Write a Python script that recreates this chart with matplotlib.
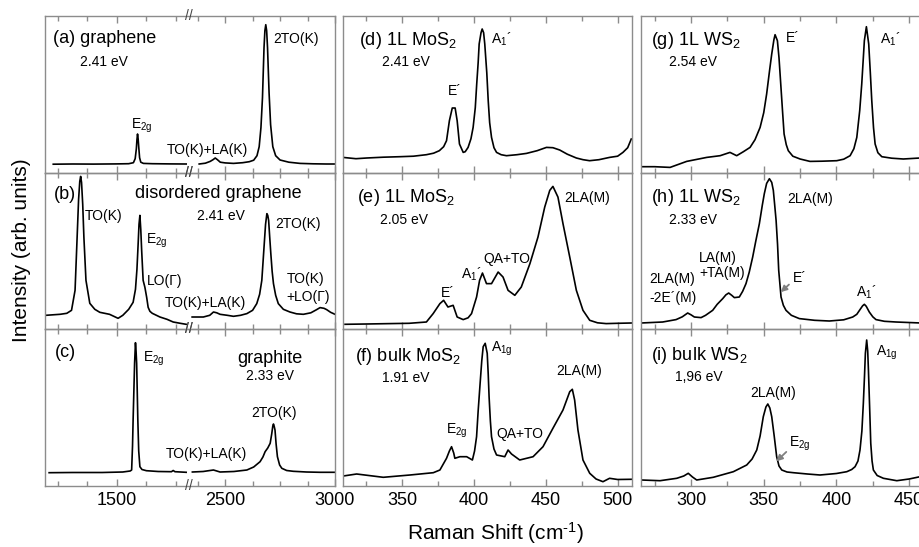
import numpy as np
import matplotlib
matplotlib.use("Agg")
import matplotlib.pyplot as plt
from matplotlib.ticker import FixedLocator, MultipleLocator, NullFormatter
from matplotlib.transforms import blended_transform_factory

plt.rcParams['font.family'] = ['Liberation Sans', 'DejaVu Sans']
plt.rcParams['mathtext.fontset'] = 'custom'
plt.rcParams['mathtext.rm'] = 'Liberation Sans'
plt.rcParams['mathtext.it'] = 'Liberation Sans:italic'
plt.rcParams['mathtext.bf'] = 'Liberation Sans:bold'
plt.rcParams['mathtext.default'] = 'regular'

# ---------------- data (Raman shift in cm^-1, intensity in arb. units) ----------------
# (a) graphene, 2.41 eV
a_lo_x = [1284, 1350, 1420, 1500, 1540, 1556, 1562, 1566, 1568, 1570, 1572, 1574, 1577, 1581, 1590, 1620, 1680, 1736]
a_lo_y = [8.5, 8.7, 8.6, 8.8, 9.0, 10.0, 14.0, 24.0, 33.0, 38.7, 34.0, 26.0, 15.0, 10.5, 9.3, 9.0, 8.8, 8.7]
a_hi_x = [2382, 2410, 2432, 2445, 2455, 2465, 2478, 2500, 2538, 2580, 2610, 2630, 2645, 2655, 2663, 2670, 2677,
          2681, 2685, 2689, 2693, 2700, 2707, 2717, 2730, 2750, 2790, 2841, 2900, 2960, 3000]
a_hi_y = [8.7, 9.5, 11.3, 13.0, 14.7, 13.0, 10.5, 9.8, 9.3, 10.0, 11.0, 12.5, 17.0, 26.0, 45.0, 75.0, 125.0,
          142.0, 148.0, 142.0, 125.0, 80.0, 48.0, 26.0, 17.0, 12.7, 10.5, 9.3, 8.9, 8.7, 8.7]

# (b) disordered graphene, 2.41 eV
b_lo_x = [1259, 1307, 1330, 1346, 1358, 1365, 1370, 1374, 1377, 1380, 1384, 1388, 1395, 1408, 1425, 1442, 1475,
          1504, 1520, 1540, 1555, 1563, 1568, 1572, 1575, 1578, 1581, 1584, 1589, 1595, 1601, 1606, 1612, 1620,
          1646, 1670, 1691, 1715, 1736]
b_lo_y = [14, 15, 16, 19, 39, 92, 130, 148, 153, 147, 125, 92, 49, 26, 20, 17, 15,
          11, 14, 20, 27, 40, 60, 85, 105, 114, 100, 79, 49, 42, 32, 22, 18, 16,
          12.3, 10, 7.3, 6, 5]
b_hi_x = [2348, 2401, 2430, 2447, 2462, 2477, 2510, 2538, 2570, 2599, 2625, 2644, 2657, 2667, 2677, 2684, 2690,
          2694, 2698, 2703, 2708, 2714, 2720, 2730, 2742, 2765, 2795, 2825, 2856, 2890, 2915, 2932, 2950, 2962,
          2980, 3000]
b_hi_y = [12.3, 12.3, 14, 17.3, 16.5, 15, 14, 13, 14, 15.7, 19, 25.7, 35, 49, 82, 105, 115.7,
          114, 109, 92, 75.7, 58, 45.7, 34, 25.7, 20, 17.3, 15.5, 15, 16.5, 19.5, 21.7, 21, 19.7,
          17, 15]

# (c) graphite, 2.33 eV
c_lo_x = [1270, 1350, 1450, 1520, 1545, 1550, 1553, 1555, 1558, 1560, 1563, 1565, 1567, 1569, 1571, 1574, 1578,
          1585, 1600, 1640, 1685, 1691, 1697, 1736]
c_lo_y = [13.3, 13.5, 13.5, 14.0, 15.0, 16, 40, 66, 100, 122.7, 143.3, 135, 122.7, 95, 66, 35, 19.3,
          16.5, 15.3, 14.5, 14.3, 15.5, 14.3, 13.7]
c_hi_x = [2351, 2400, 2447, 2477, 2540, 2599, 2630, 2659, 2672, 2682, 2694, 2705, 2712, 2717, 2720, 2723, 2727,
          2732, 2738, 2748, 2758, 2780, 2810, 2870, 2932, 3000]
c_hi_y = [14, 14.5, 16, 14, 14.5, 16, 19, 24.3, 29, 34.3, 38, 42.7, 52, 60, 62, 60, 56,
          42, 29.3, 21, 17.7, 15.5, 14.7, 14, 13.7, 13.7]

# (d) 1L MoS2, 2.41 eV
d_x = [309, 318, 325.5, 337, 348.6, 358, 367, 372, 376, 379, 381, 383, 385, 387, 388.4, 390, 392.6, 394, 396, 398,
       399.5, 401, 402, 403, 403.7, 405, 405.8, 406.8, 407.6, 409, 410, 411, 412.3, 414, 415.8, 419, 422.7, 430,
       436.6, 444, 450.5, 455, 459.7, 465, 471.3, 476, 480.5, 487, 494.4, 500, 503.7, 507, 509.5]
d_y = [15.3, 14.0, 14.7, 15.5, 16.0, 16.5, 18.0, 19.5, 22.0, 26, 32.0, 52.0, 64.7, 64.7, 52.0, 28.7, 20.3, 21, 25.3, 34,
       45.3, 65, 88.7, 110, 128.7, 140, 143.7, 140, 128.7, 100, 72.0, 50, 35.3, 25, 20.3, 18, 17.0, 18,
       19.3, 22, 25.3, 25, 22.7, 18.5, 14.7, 13, 12.0, 13, 15.3, 16.5, 20.3, 25, 33.7]

# (e) 1L MoS2, 2.05 eV
e_x = [310.4, 325, 341.7, 355, 367, 371.7, 376.4, 379, 382, 385.6, 388.4, 392.6, 396, 398.4, 401.9, 404, 406, 408.8,
       412.3, 416.9, 420.3, 423.8, 428.5, 433, 439, 444.6, 449.3, 452.8, 455, 458.5, 462, 466.7, 471.3, 475.9,
       480.6, 486, 492, 500, 509.5]
e_y = [5, 5.3, 5.7, 6, 7.3, 15.7, 25.7, 29, 22.3, 24, 12.3, 9.7, 11.5, 15.7, 32.3, 49, 56.3, 45.7,
       45.7, 57.3, 52.3, 39, 34, 42.3, 65.7, 92.3, 122.3, 139, 143, 132.3, 105.7, 72.3, 39, 19,
       9, 6.5, 5.7, 6, 6.3]

# (f) bulk MoS2, 1.91 eV
f_x = [309.2, 318.5, 337, 355.6, 371.8, 376.4, 381, 383, 384.5, 386, 386.8, 390.3, 395, 399, 400.5, 401.9, 403,
       404.2, 405.5, 406.5, 407.9, 409.3, 410, 410.6, 411.5, 412.3, 414, 415.8, 421.5, 423.8, 426.2, 431.9, 441.2,
       448.1, 455, 462, 466.7, 468.5, 470.1, 472.4, 475.9, 480.6, 485, 489.8, 494.4, 500, 509.5]
f_y = [10, 12, 8.7, 11, 13.3, 16, 27.7, 35, 39.3, 33, 27.7, 29.3, 29.3, 26, 35, 49.3, 75,
       99.3, 125, 139.3, 142.7, 132.7, 112, 89.3, 65, 49.3, 37, 31, 29.3, 36, 32, 26, 29.3,
       39.3, 57.7, 76, 94.3, 96.7, 86, 56, 26, 12.7, 7, 4.3, 7.7, 6.5, 6.7]

# (g) 1L WS2, 2.54 eV
g_x = [266, 275, 285.6, 297, 310.8, 320, 326.8, 331.4, 336, 340.6, 344, 347.5, 350, 352, 354, 355.5, 357, 357.8,
       359.4, 360.5, 361.7, 363, 364, 365.5, 366.9, 370, 375, 381.8, 390, 400.2, 405, 409.4, 412, 414, 416, 417.4,
       418.5, 419.2, 420.6, 422.2, 423.3, 424.3, 425.5, 426.6, 428.5, 431.2, 438, 446, 457.5, 470]
g_y = [6, 6, 5.3, 11.3, 15.3, 17, 20.3, 17, 21, 25.3, 33, 45.3, 60, 78.7, 102, 118.7, 133, 138,
       132, 115, 88.7, 60, 38.7, 28, 22, 16.5, 13.7, 11.3, 11.5, 12, 13.5, 17, 24, 35.3, 62, 88.7,
       115, 132, 146, 128.7, 100, 72, 45, 28.7, 20, 16, 14.5, 13.7, 14.7, 14.5]

# (h) 1L WS2, 2.33 eV
h_x = [265.6, 280.5, 289.7, 294, 297.7, 300, 302.3, 306.9, 310, 314.9, 318, 321.8, 324, 325.9, 328, 329.8, 333.2,
       335.5, 337.8, 340, 342.4, 344.5, 347, 349, 350.4, 352, 353.9, 355.5, 356.6, 357.5, 358.5, 359.5, 360.3,
       361.9, 363.5, 365.3, 369, 374.5, 385, 395.1, 405, 411.2, 414, 416.2, 418, 419.2, 420.5, 422.6, 425, 427.2,
       433, 441, 458.2, 470]
h_y = [6.3, 7.3, 9.7, 12.5, 16.3, 14.5, 12.3, 11.7, 14, 19, 25, 30.7, 34.5, 36.3, 34, 31.7, 32.3,
       38, 45.7, 57, 72.3, 88, 105.7, 124, 135.7, 146, 150.7, 147, 139, 125, 109, 85, 59,
       32.3, 24, 19, 14, 10.7, 9, 8.3, 9.5, 12.3, 15, 19.7, 23.5, 25, 23, 17.3, 12.5, 9.7,
       8, 7.3, 6.3, 6.2]

# (i) bulk WS2, 1.96 eV
i_x = [266, 278.7, 290.2, 295, 298.1, 301, 303.9, 315.3, 329.1, 338.3, 342, 345.2, 347.5, 349.7, 351.5, 352.8,
       354.2, 355.5, 357.2, 358.9, 360.5, 362.4, 366, 370.4, 380, 388.7, 400, 407.1, 410.5, 412.8, 414.8, 416.2,
       417.5, 418.5, 419.3, 419.9, 420.8, 421.5, 422, 422.8, 423.6, 424.5, 425.4, 428, 432.3, 441.5, 450, 457.5, 470]
i_y = [6, 5.3, 7.7, 10, 12.7, 9, 6, 8.7, 14.3, 21, 27, 36, 50, 69.3, 79, 82,
       78, 69.3, 50, 29.3, 20, 16, 14, 13.3, 12, 11, 12.5, 14.3, 16.5, 19.3, 25, 36,
       55, 82.7, 110, 132.7, 146, 135, 116, 80, 42.7, 25, 16, 10.5, 7.7, 5.3, 7, 9.3, 9]

col1_major = [1500, 2500, 3000]
col1_minor = [1300, 1400, 1600, 1700, 2375, 2625, 2750, 2875]

# ---------------- figure ----------------
W, H = 920, 547
fig = plt.figure(figsize=(W / 100, H / 100), dpi=100)

SPINE = '#8c8c8c'
LINE_KW = dict(color='black', lw=1.2)

# broken-axis scale for the carbon column
L1, R1, GAP, SA, SB = 1735.0, 2350.0, 6.0, 0.295, 0.22
UL = (L1 - 1500) * SA
UR = UL + GAP


def fwd(x):
    x = np.asarray(x, dtype=float)
    return np.where(x <= L1, (x - 1500) * SA,
                    np.where(x >= R1, UR + (x - R1) * SB, UL + (x - L1) * GAP / (R1 - L1)))


def inv(u):
    u = np.asarray(u, dtype=float)
    return np.where(u <= UL, 1500 + u / SA,
                    np.where(u >= UR, R1 + (u - UR) / SB, L1 + (u - UL) * (R1 - L1) / GAP))


col_px = [(45, 335), (343, 632), (641, 945.5)]
row_px = [(16, 172.7), (172.7, 329.3), (329.3, 486)]
xlims = [(1256, 3000), (309, 510), (265.6, 475)]

axes = {}
for c, (x0, x1) in enumerate(col_px):
    for r, (y0, y1) in enumerate(row_px):
        ax = fig.add_axes([x0 / W, 1 - y1 / H, (x1 - x0) / W, (y1 - y0) / H])
        axes[(r, c)] = ax
        if c == 0:
            ax.set_xscale('function', functions=(fwd, inv))
            ax.xaxis.set_major_locator(FixedLocator(col1_major))
            ax.xaxis.set_minor_locator(FixedLocator(col1_minor))
        else:
            ax.xaxis.set_major_locator(MultipleLocator(50))
            ax.xaxis.set_minor_locator(MultipleLocator(25))
        ax.xaxis.set_minor_formatter(NullFormatter())
        ax.set_xlim(*xlims[c])
        ax.set_ylim(0, 156.7)
        ax.set_yticks([])
        for s in ax.spines.values():
            s.set_color(SPINE)
            s.set_linewidth(1.0)
        ax.tick_params(axis='x', which='both', direction='in', top=True, bottom=True,
                       color=SPINE, labelsize=13, pad=4, labelcolor='black')
        ax.tick_params(axis='x', which='major', length=5, width=1)
        ax.tick_params(axis='x', which='minor', length=3.5, width=1)
        if r < 2:
            ax.tick_params(axis='x', which='both', labelbottom=False)
        ax.patch.set_alpha(0)

# carbon spectra
for r, segs in enumerate([[(a_lo_x, a_lo_y), (a_hi_x, a_hi_y)],
                          [(b_lo_x, b_lo_y), (b_hi_x, b_hi_y)],
                          [(c_lo_x, c_lo_y), (c_hi_x, c_hi_y)]]):
    ax = axes[(r, 0)]
    for sx, sy in segs:
        ax.plot(sx, sy, **LINE_KW)
    tr = blended_transform_factory(ax.transData, ax.transAxes)
    for yy in (0, 1):
        ax.text(2043, yy, '//', transform=tr, ha='center', va='center', fontsize=10,
                color='#444444', clip_on=False)

for r, (sx, sy) in enumerate([(d_x, d_y), (e_x, e_y), (f_x, f_y)]):
    axes[(r, 1)].plot(sx, sy, **LINE_KW)
for r, (sx, sy) in enumerate([(g_x, g_y), (h_x, h_y), (i_x, i_y)]):
    axes[(r, 2)].plot(sx, sy, **LINE_KW)


def T(x, y, s, size=10, ha='left', va='baseline'):
    fig.text(x / W, 1 - y / H, s, fontsize=size, ha=ha, va=va)


TS, ES, PS = 13, 10, 10
# (a)
T(53.3, 43.3, '(a) graphene', TS)
T(80, 66, '2.41 eV', ES)
T(131, 128.3, 'E$_{2g}$', PS)
T(166.7, 154, 'TO(K)+LA(K)', PS)
T(273.3, 42.7, '2TO(K)', PS)
# (b)
T(54, 199.3, '(b)', TS)
T(135, 198.3, 'disordered graphene', TS)
T(196.7, 220, '2.41 eV', ES)
T(85, 220, 'TO(K)', PS)
T(146, 243.3, 'E$_{2g}$', PS)
T(147.3, 285, 'LO(Γ)', PS)
T(165, 306.7, 'TO(K)+LA(K)', PS)
T(275, 228.3, '2TO(K)', PS)
T(286.7, 283.3, 'TO(K)', PS)
T(286.7, 300.7, '+LO(Γ)', PS)
# (c)
T(55, 357.3, '(c)', TS)
T(142.7, 361.7, 'E$_{2g}$', PS)
T(237.3, 362.7, 'graphite', TS)
T(245.7, 380, '2.33 eV', ES)
T(251.7, 417.3, '2TO(K)', PS)
T(166, 458.3, 'TO(K)+LA(K)', PS)
# (d)
T(359.3, 45, '(d) 1L MoS$_2$', TS)
T(381.7, 66, '2.41 eV', ES)
T(447.7, 95, 'E´', PS)
T(490.7, 43.3, 'A$_1$´', PS)
# (e)
T(356.7, 201.7, '(e) 1L MoS$_2$', TS)
T(380, 224, '2.05 eV', ES)
T(441, 296.7, 'E´', PS)
T(460.7, 278.3, 'A$_1$´', PS)
T(483.3, 263.3, 'QA+TO', PS)
T(564, 202.3, '2LA(M)', PS)
# (f)
T(355, 360.7, '(f) bulk MoS$_2$', TS)
T(381.7, 381.7, '1.91 eV', ES)
T(445.7, 433.3, 'E$_{2g}$', PS)
T(490.7, 351.7, 'A$_{1g}$', PS)
T(496, 438.3, 'QA+TO', PS)
T(556, 375, '2LA(M)', PS)
# (g)
T(650.7, 45, '(g) 1L WS$_2$', TS)
T(669.3, 66, '2.54 eV', ES)
T(786, 41.7, 'E´', PS)
T(880, 43.3, 'A$_1$´', PS)
# (h)
T(651, 201.7, '(h) 1L WS$_2$', TS)
T(669.3, 224, '2.33 eV', ES)
T(787.7, 202.7, '2LA(M)', PS)
T(699.3, 261.7, 'LA(M)', PS)
T(699.3, 276.7, '+TA(M)', PS)
T(649.3, 283.3, '2LA(M)', PS)
T(649.3, 301.7, '-2E´(M)', PS)
T(793.3, 281.7, 'E´', PS)
T(856, 296.7, 'A$_1$´', PS)
# (i)
T(650.7, 360, '(i) bulk WS$_2$', TS)
T(675, 381, '1,96 eV', ES)
T(750, 396.7, '2LA(M)', PS)
T(789.3, 446.7, 'E$_{2g}$', PS)
T(876, 356, 'A$_{1g}$', PS)

ARROW = dict(arrowstyle='-|>', color='#808080', lw=1.3, mutation_scale=9)
for (tx, ty), (hx, hy) in [((791, 282.7), (778.7, 294)), ((788.3, 450), (774.3, 463.3))]:
    fig.add_artist(matplotlib.patches.FancyArrowPatch(
        (tx / W, 1 - ty / H), (hx / W, 1 - hy / H), transform=fig.transFigure, **ARROW))

# axis titles
fig.text(22 / W, 1 - 250 / H, 'Intensity (arb. units)', rotation=90, ha='center', va='center', fontsize=15)
fig.text(495 / W, 1 - 540 / H, 'Raman Shift (cm$^{\\text{-1}}$)', ha='center', va='baseline', fontsize=15)

fig.savefig('out.png', dpi=100)
